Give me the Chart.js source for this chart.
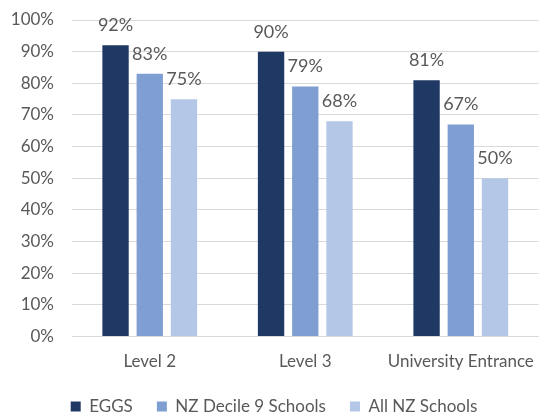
<!DOCTYPE html>
<html>
<head>
<meta charset="utf-8">
<script src="https://cdn.jsdelivr.net/npm/chart.js@4"></script>
<style>
  html, body { margin: 0; padding: 0; background: #fff; overflow: hidden; }
  #wrap { width: 549px; height: 425px; }
</style>
</head>
<body>
<div id="wrap"><canvas id="barChart"></canvas></div>
<script>
const categories = ["Level 2", "Level 3", "University Entrance"];
const eggs = [92, 90, 81];
const decile9 = [83, 79, 67];
const allNz = [75, 68, 50];
const yTicks = [0, 10, 20, 30, 40, 50, 60, 70, 80, 90, 100];

const textColor = "#595959";
const fontFamily = "Lato, 'Open Sans', sans-serif";

// draws the % value above each bar
const barLabels = {
  id: "barLabels",
  afterDatasetsDraw(chart) {
    const c = chart.ctx;
    c.save();
    c.fillStyle = textColor;
    c.font = "18px " + fontFamily;
    c.textAlign = "center";
    c.textBaseline = "alphabetic";
    chart.data.datasets.forEach((ds, i) => {
      chart.getDatasetMeta(i).data.forEach((bar, j) => {
        c.fillText(ds.data[j] + "%", bar.x, bar.y - 14);
      });
    });
    c.restore();
  },
};

let ctx = document.getElementById("barChart").getContext("2d");

new Chart(ctx, {
  type: "bar",
  data: {
    labels: categories,
    datasets: [
      { label: "EGGS", data: eggs, backgroundColor: "#1F3864" },
      { label: "NZ Decile 9 Schools", data: decile9, backgroundColor: "#7F9FD3" },
      { label: "All NZ Schools", data: allNz, backgroundColor: "#B4C7E7" },
    ],
  },
  options: {
    responsive: true,
    maintainAspectRatio: false,
    animation: false,
    layout: { padding: { left: 0, right: 1, top: 20, bottom: 0 } },
    datasets: {
      bar: { categoryPercentage: 0.66, barPercentage: 0.77 },
    },
    scales: {
      x: {
        grid: { display: false, drawTicks: false },
        border: { color: "#D9D9D9", width: 1 },
        ticks: { color: textColor, font: { family: fontFamily, size: 17 }, padding: 15 },
      },
      y: {
        min: 0,
        max: 100,
        afterBuildTicks: (axis) => {
          axis.ticks = yTicks.map((v) => ({ value: v }));
        },
        afterFit: (axis) => {
          axis.width = 72;
          axis.paddingTop = 0;
          axis.paddingBottom = 0;
        },
        grid: { color: "#D9D9D9", drawTicks: false },
        border: { display: false },
        ticks: {
          color: textColor,
          font: { family: fontFamily, size: 17 },
          padding: 18,
          callback: (v) => v + "%",
        },
      },
    },
    plugins: {
      legend: {
        position: "bottom",
        labels: {
          color: textColor,
          font: { family: fontFamily, size: 17 },
          boxWidth: 10,
          boxHeight: 10,
          padding: 11,
          generateLabels: (chart) => {
            const items = Chart.defaults.plugins.legend.labels.generateLabels(chart);
            items.forEach((it, i) => {
              if (i < items.length - 1) it.text = it.text + "   ";
            });
            return items;
          },
        },
      },
      tooltip: { enabled: false },
    },
  },
  plugins: [barLabels],
});
</script>
</body>
</html>
